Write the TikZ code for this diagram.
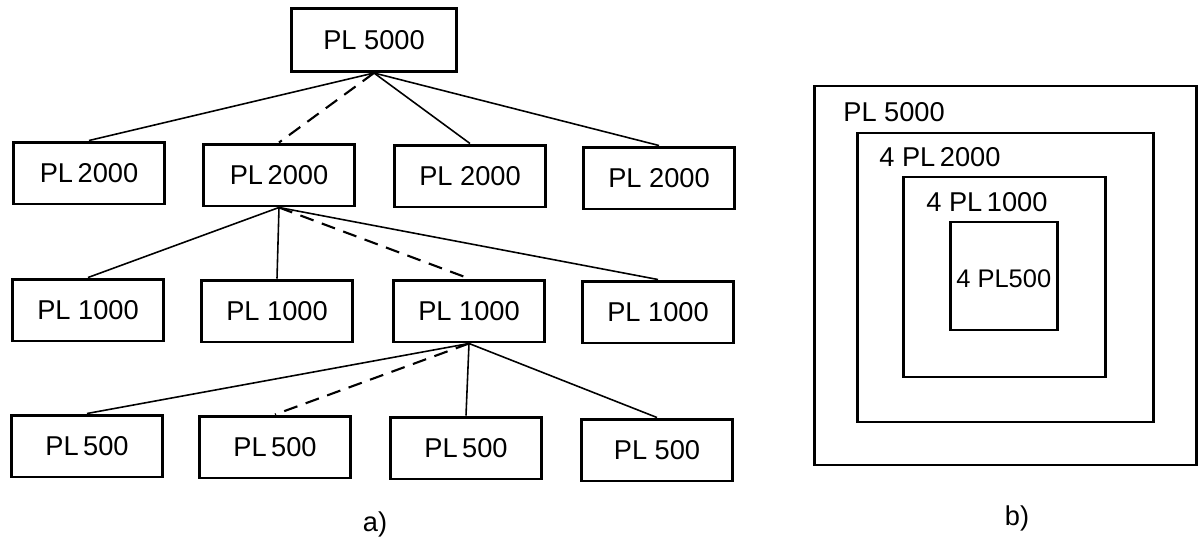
\documentclass[tikz,border=0pt]{standalone}
\usepackage{fontspec}
\setmainfont{Liberation Sans}

\begin{document}
\begin{tikzpicture}[
    x = 0.02cm, y = -0.02cm,
    box/.style = {draw, line width = 1.7pt,
      font = \fontsize{15.5}{18}\selectfont,
      inner sep = 0pt,
      minimum width = 3.04cm, minimum height = 1.24cm},
    link/.style = {line width = 0.9pt},
    spare/.style = {link, line width = 1.2pt, dash pattern = on 8pt off 5pt},
    square/.style = {line width = 1.7pt},
    caption/.style = {font = \fontsize{15.5}{18}\selectfont, inner sep = 0pt},
    ]

    \useasboundingbox (0, 0) rectangle (1201, 548);

    \node at (374, 40)
    [box, minimum width = 3.3cm, minimum height = 1.26cm, name = P5000] {PL 5000};

    \node at (89, 173) [box, name = P2000a] {PL\,2000};
    \node at (279, 175) [box, name = P2000b] {PL\,2000};
    \node at (470, 176) [box, name = P2000c] {PL 2000};
    \node at (659, 178) [box, name = P2000d] {PL 2000};

    \node at (88, 310) [box, name = P1000a] {PL 1000};
    \node at (277, 311) [box, name = P1000b] {PL 1000};
    \node at (469, 311) [box, name = P1000c] {PL 1000};
    \node at (658, 312) [box, name = P1000d] {PL 1000};

    \node at (87, 446) [box, name = P500a] {PL\,500};
    \node at (275, 447) [box, name = P500b] {PL\,500};
    \node at (466, 448) [box, name = P500c] {PL\,500};
    \node at (657, 450) [box, name = P500d] {PL 500};

    \draw [link] (P5000.south) to (P2000a.north);
    \draw [spare] (P5000.south) to (P2000b.north);
    \draw [link] (P5000.south) to (P2000c.north);
    \draw [link] (P5000.south) to (P2000d.north);

    \draw [link] (P2000b.south) to (P1000a.north);
    \draw [link] (P2000b.south) to (P1000b.north);
    \draw [spare] (P2000b.south) to (P1000c.north);
    \draw [link] (P2000b.south) to (P1000d.north);

    \draw [link] (P1000c.south) to (P500a.north);
    \draw [spare] (P1000c.south) to (P500b.north);
    \draw [link] (P1000c.south) to (P500c.north);
    \draw [link] (P1000c.south) to (P500d.north);

    \node at (375, 524) [caption, name = capa] {a)};

    \draw [square] (814, 86) rectangle (1196, 465);
    \draw [square] (857, 133) rectangle (1153, 422);
    \draw [square] (903, 177) rectangle (1105, 377);
    \draw [square] (950, 222) rectangle (1057, 330);

    \node at (843, 112) [caption, anchor = west, name = L5000] {PL 5000};
    \node at (879, 157) [caption, anchor = west, name = L2000] {4 PL\,2000};
    \node at (926, 202) [caption, anchor = west, name = L1000] {4 PL\,1000};
    \node at (956, 279) [caption, anchor = west, font = \fontsize{14.5}{17}\selectfont,
      name = L500] {4 PL500};

    \node at (1017, 518) [caption, name = capb] {b)};

  \end{tikzpicture}
\end{document}
